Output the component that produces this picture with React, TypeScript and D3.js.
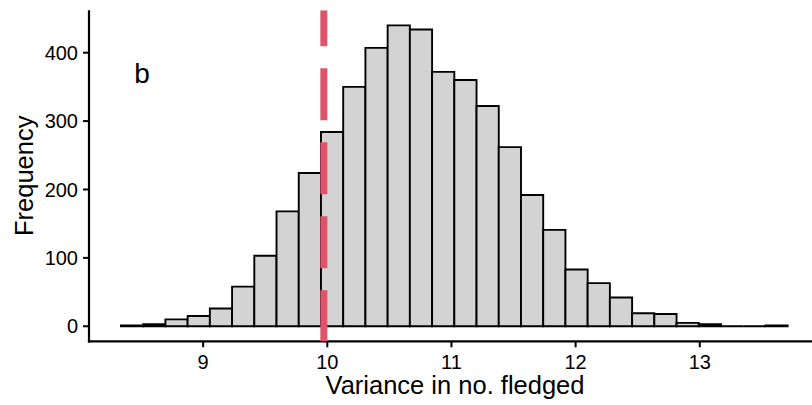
import React from "react";
import * as d3 from "d3";

// Histogram counts (30 bins)
const binStart = 8.338;
const binWidth = 0.179;
const counts = [1, 3, 10, 15, 26, 58, 103, 168, 224, 284, 350, 407, 440, 434, 372, 360, 322, 262, 192, 141, 83, 63, 42, 19, 18, 5, 3, 0, 0, 1];
const xTicks = [9, 10, 11, 12, 13];
const yTicks = [0, 100, 200, 300, 400];
const observedValue = 9.972;
const panelLabel = "b";
const xTitle = "Variance in no. fledged";
const yTitle = "Frequency";

const W = 812;
const H = 405;
const FONT = "'Liberation Sans', Arial, Helvetica, sans-serif";

export default function App() {
  const bins = counts.map((c, i) => ({ x0: binStart + i * binWidth, x1: binStart + (i + 1) * binWidth, c }));
  const dataMin = bins[0].x0;
  const dataMax = bins[bins.length - 1].x1;
  const span = dataMax - dataMin;
  const left = 89;
  const right = 821;
  const top = 10.3;
  const bottom = 341.3;
  const x = d3.scaleLinear().domain([dataMin - 0.05 * span + 0.011, dataMax + 0.05 * span]).range([left, right]);
  const maxC = d3.max(counts) as number;
  const y = d3.scaleLinear().domain([-0.05 * maxC, 1.05 * maxC]).range([bottom, top]);

  const barPath = (b: { x0: number; x1: number; c: number }) => {
    const p = d3.path();
    p.moveTo(x(b.x0), y(0));
    p.lineTo(x(b.x0), y(b.c));
    p.lineTo(x(b.x1), y(b.c));
    p.lineTo(x(b.x1), y(0));
    p.closePath();
    return p.toString();
  };

  return (
    <svg width={W} height={H} style={{ position: "absolute", left: 0, top: 0, background: "#fff" }} fontFamily={FONT}>
      <defs>
        <clipPath id="panel">
          <rect x={left} y={top} width={right - left} height={bottom - top} />
        </clipPath>
      </defs>
      <g clipPath="url(#panel)">
        {bins.map((b, i) => (
          <path key={i} d={barPath(b)} fill="#D3D3D3" stroke="#000" strokeWidth={1.9} strokeLinejoin="miter" />
        ))}
      </g>
      {/* y axis */}
      <line x1={left} x2={left} y1={top} y2={bottom + 1.1} stroke="#000" strokeWidth={2.2} />
      {yTicks.map((t) => (
        <g key={t}>
          <line x1={left - 6} x2={left} y1={y(t)} y2={y(t)} stroke="#000" strokeWidth={2} />
          <text x={left - 11} y={y(t)} dy="0.36em" textAnchor="end" fontSize={20} fill="#000">
            {t}
          </text>
        </g>
      ))}
      {/* x axis */}
      <line x1={left - 1.1} x2={W} y1={bottom} y2={bottom} stroke="#000" strokeWidth={2.2} />
      {xTicks.map((t) => (
        <g key={t}>
          <line x1={x(t)} x2={x(t)} y1={bottom} y2={bottom + 6} stroke="#000" strokeWidth={2} />
          <text x={x(t)} y={369.3} textAnchor="middle" fontSize={20} fill="#000">
            {t}
          </text>
        </g>
      ))}
      {/* observed value line */}
      <g clipPath="url(#panel)">
        <line
          x1={x(observedValue)}
          x2={x(observedValue)}
          y1={bottom + 1}
          y2={top}
          stroke="#DF536B"
          strokeWidth={7}
          strokeDasharray="52 22"
        />
      </g>
      <text x={142} y={83} textAnchor="middle" fontSize={28} fill="#000">
        {panelLabel}
      </text>
      <text x={(left + right) / 2} y={394.3} textAnchor="middle" fontSize={25.5} fill="#000">
        {xTitle}
      </text>
      <text
        transform={`translate(32.7, ${(top + bottom) / 2}) rotate(-90)`}
        textAnchor="middle"
        fontSize={25.5}
        fill="#000"
      >
        {yTitle}
      </text>
    </svg>
  );
}
